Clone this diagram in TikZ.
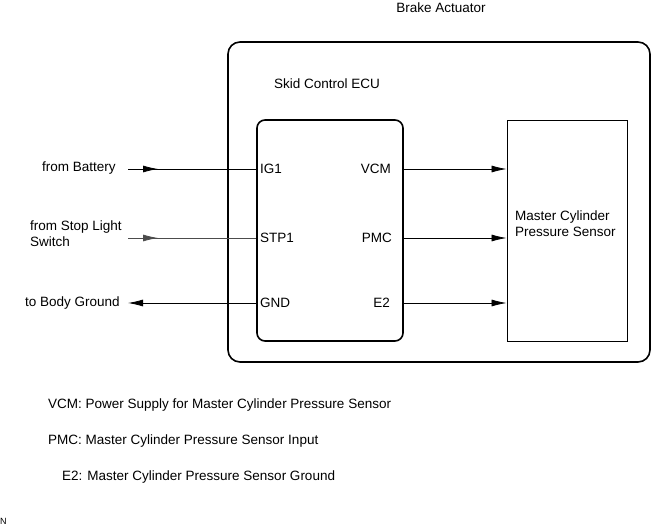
\documentclass[tikz,border=0pt]{standalone}
\usepackage{fontspec}
\setmainfont{Liberation Sans}
\usetikzlibrary{arrows.meta, positioning, calc}

\begin{document}
\begin{tikzpicture}[
        x=1pt, y=-1pt,
        font=\fontsize{13.5}{16}\selectfont,
        actuator/.style={rectangle, draw=black, line width=1.6pt, rounded corners=12pt, minimum width=422pt, minimum height=320pt, inner sep=0pt},
        ecubox/.style={rectangle, draw=black, line width=1.6pt, rounded corners=8pt, minimum width=146pt, minimum height=221pt, inner sep=0pt},
        sensorbox/.style={rectangle, draw=black, line width=0.9pt, minimum width=120pt, minimum height=221pt, inner sep=0pt},
        lbl/.style={inner sep=0pt, anchor=west},
        wire/.style={line width=0.8pt},
        arrow/.style={line width=0.8pt, -{Latex[length=15pt, width=7pt]}}
    ]
    \useasboundingbox (0,0) rectangle (651,529);

    % --- Nodes ---
    \node[actuator] (act) at (439,202) {};
    \node[inner sep=0pt] (acttitle) at (441,8) {Brake Actuator};
    \node[lbl] (ecutitle) at (274,84) {Skid Control ECU};
    \node[ecubox] (ecu) at (330,230.5) {};
    \node[sensorbox] (sensor) at (567,230.5) {};
    \node[lbl, align=left] (sensorname) at (515,224) {Master Cylinder\\Pressure Sensor};

    % pins
    \node[lbl] (ig1) at (260,169) {IG1};
    \node[lbl] (stp1) at (260,238) {STP1};
    \node[lbl] (gnd) at (260,303) {GND};
    \node[lbl, anchor=east] (vcm) at (391,169) {VCM};
    \node[lbl, anchor=east] (pmc) at (392,238) {PMC};
    \node[lbl, anchor=east] (e2) at (390,303) {E2};

    % outside ends
    \node[lbl] (battery) at (42,168) {from Battery};
    \node[lbl, align=left] (stoplight) at (30,234) {from Stop Light\\Switch};
    \node[lbl] (body) at (25,303) {to Body Ground};
    \coordinate (batend) at (128,169);
    \coordinate (stpend) at (128,238);
    \coordinate (gndend) at (128,303);

    % --- Edges ---
    \draw[wire] (batend) -- (ecu.west |- ig1);
    \draw[arrow] (batend) -- ($(batend)+(30,0)$);
    \draw[wire, black!70] (stpend) -- (ecu.west |- stp1);
    \draw[arrow, black!70] (stpend) -- ($(stpend)+(30,0)$);
    \draw[arrow] (ecu.west |- gnd) -- (gndend);

    \draw[arrow] (ecu.east |- vcm) -- (sensor.west |- vcm);
    \draw[arrow] (ecu.east |- pmc) -- (sensor.west |- pmc);
    \draw[arrow] (ecu.east |- e2) -- (sensor.west |- e2);

    % notes
    \node[lbl] (notevcm) at (48,405) {VCM: Power Supply for Master Cylinder Pressure Sensor};
    \node[lbl] (notepmc) at (48,441) {PMC: Master Cylinder Pressure Sensor Input};
    \node[lbl] (notee2) at (62,477) {E2: Master Cylinder Pressure Sensor Ground};
    \node[lbl, font=\fontsize{9}{10}\selectfont] (ncorner) at (0,521) {N};

\end{tikzpicture}
\end{document}
